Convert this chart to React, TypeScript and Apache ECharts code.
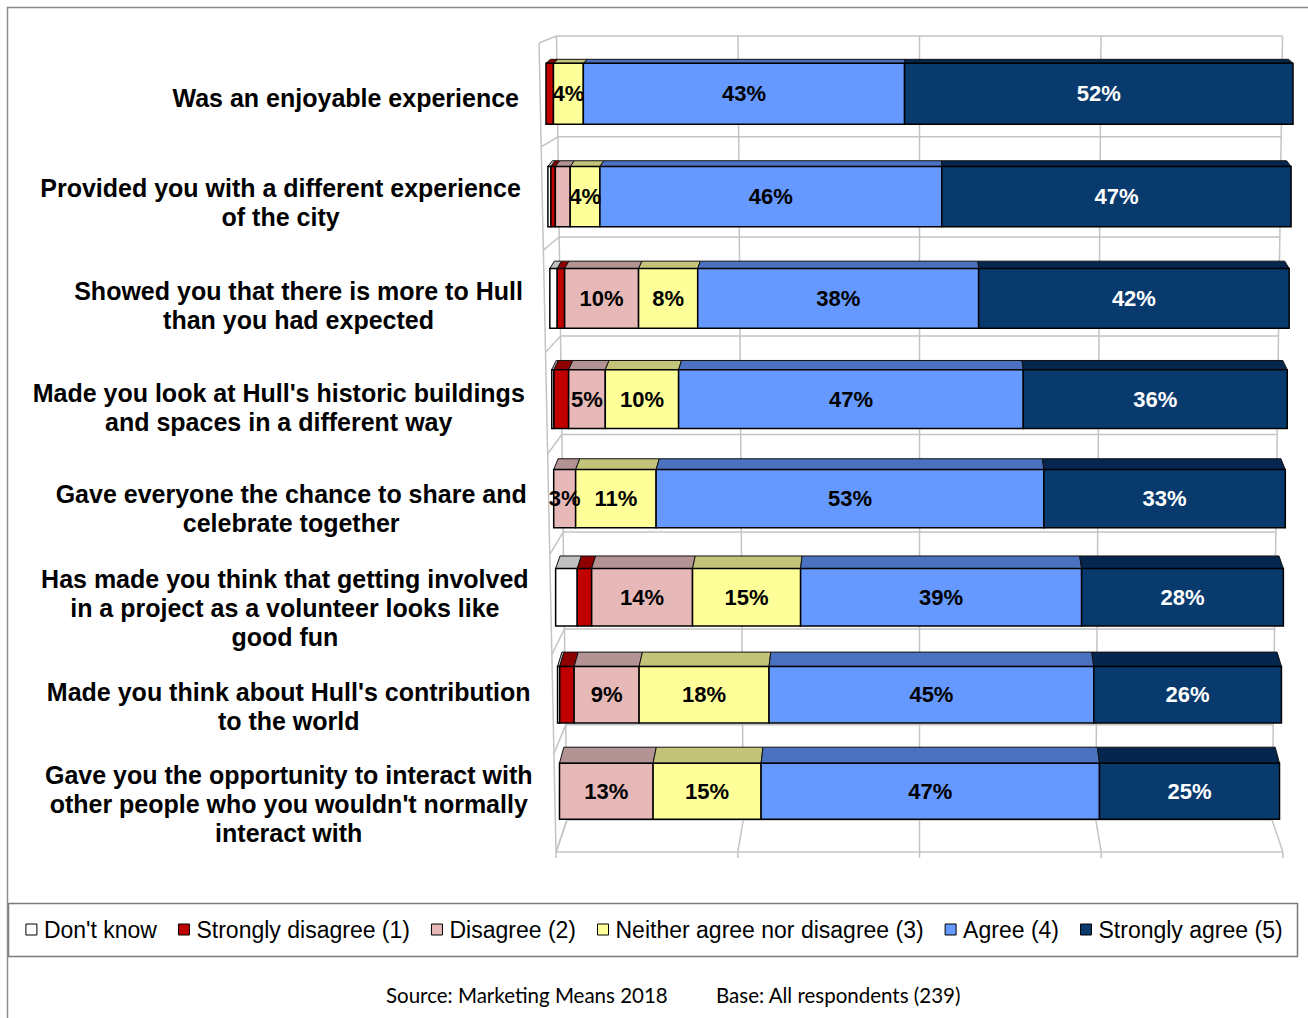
import React, { useEffect, useRef } from 'react';
import * as echarts from 'echarts';

const categories = [
  'Was an enjoyable experience',
  'Provided you with a different experience\nof the city',
  'Showed you that there is more to Hull\nthan you had expected',
  "Made you look at Hull's historic buildings\nand spaces in a different way",
  'Gave everyone the chance to share and\ncelebrate together',
  'Has made you think that getting involved\nin a project as a volunteer looks like\ngood fun',
  "Made you think about Hull's contribution\nto the world",
  "Gave you the opportunity to interact with\nother people who you wouldn't normally\ninteract with",
];

const seriesNames = [
  "Don't know",
  'Strongly disagree (1)',
  'Disagree (2)',
  'Neither agree nor disagree (3)',
  'Agree (4)',
  'Strongly agree (5)',
];

const dontKnow = [0, 0.4, 1, 0.3, 0, 3, 0.3, 0];
const stronglyDisagree = [1, 0.6, 1, 2, 0, 2, 2, 0];
const disagree = [0, 2, 10, 5, 3, 14, 9, 13];
const neither = [4, 4, 8, 10, 11, 15, 18, 15];
const agree = [43, 46, 38, 47, 53, 39, 45, 47];
const stronglyAgree = [52, 47, 42, 36, 33, 28, 26, 25];

const valueTicks = [0, 25, 50, 75, 100];

const frontColors = ['#ffffff', '#c00000', '#e6b9b8', '#ffff99', '#6699ff', '#083a6e'];
const topColors = ['#c0c0c0', '#8e0000', '#b39393', '#c3c37a', '#4a72c0', '#04264f'];
const labelColors = ['#000', '#000', '#000', '#000', '#000', '#ffffff'];

const allSeries = [dontKnow, stronglyDisagree, disagree, neither, agree, stronglyAgree];

const FONT = '"Liberation Sans", Arial, sans-serif';
const GRID_COLOR = '#c4c4c4';
const CAT_FONT_SIZE = 25;

let measureCtx: CanvasRenderingContext2D | null = null;
function maxLineWidth(text: string, font: string): number {
  if (!measureCtx) {
    const cv = document.createElement('canvas');
    measureCtx = cv.getContext('2d');
  }
  if (!measureCtx) return 400;
  measureCtx.font = font;
  return Math.max(...text.split('\n').map((l) => measureCtx!.measureText(l).width));
}

// perspective helpers
const N = categories.length;
function rowGeom(params: any, api: any, c: number) {
  const cs = params.coordSys;
  const cx = cs.x + cs.width / 2;
  const t = c / (N - 1);
  const sF = 1.0596 - 0.0383 * t;
  const yC = api.coord([0, c])[1] + 26 * t * (1 - t);
  const h = 61 - 5 * t;
  const d = 4 + 12 * t;
  return { cs, cx, t, sF, yC, h, d };
}

function makeBarRender(si: number) {
  return (params: any, api: any) => {
    const start = api.value(0);
    const end = api.value(1);
    const c = api.value(2);
    const raw = api.value(3);
    if (!(end - start > 0)) return null;
    const { cx, sF, yC, h, d } = rowGeom(params, api, c);
    const k = 0.988;
    const xa = cx + (api.coord([start, c])[0] - cx) * sF;
    const xb = cx + (api.coord([end, c])[0] - cx) * sF;
    const yT = yC - h / 2;
    const children: any[] = [
      {
        type: 'polygon',
        shape: {
          points: [
            [xa, yT],
            [xb, yT],
            [cx + (xb - cx) * k, yT - d],
            [cx + (xa - cx) * k, yT - d],
          ],
        },
        style: { fill: topColors[si], stroke: '#111', lineWidth: 1 },
      },
      {
        type: 'rect',
        shape: { x: xa, y: yT, width: xb - xa, height: h },
        style: { fill: frontColors[si], stroke: '#000', lineWidth: 1.5 },
      },
    ];
    if (si >= 2 && raw >= 2.5) {
      children.push({
        type: 'text',
        z2: 100,
        x: (xa + xb) / 2,
        y: yC,
        style: {
          text: Math.round(raw) + '%',
          fill: labelColors[si],
          fontSize: 22,
          fontWeight: 'bold',
          fontFamily: FONT,
          align: 'center',
          verticalAlign: 'middle',
        },
      });
    }
    return { type: 'group', children };
  };
}

function buildBarData(si: number) {
  return categories.map((_, c) => {
    const total = allSeries.reduce((s, arr) => s + arr[c], 0);
    let before = 0;
    for (let j = 0; j < si; j++) before += allSeries[j][c];
    const start = (before / total) * 100;
    const end = ((before + allSeries[si][c]) / total) * 100;
    return [start, end, c, allSeries[si][c]];
  });
}

// wall geometry scale factors (relative to grid centre)
const S_BACK_TOP = 1.0298;
const S_BACK_BOT = 1.0;
const S_FLOOR_FRONT = 1.031;
const S_LEFT_FRONT_TOP = 1.0794;
const S_LEFT_FRONT_BOT = 1.0312;

function wallFrame(params: any) {
  const cs = params.coordSys;
  const yBT = cs.y - 8;
  const yBB = cs.y + cs.height - 21;
  const yFT = cs.y - 1;
  const yFF = cs.y + cs.height + 11;
  return { cs, cx: cs.x + cs.width / 2, yBT, yBB, yFT, yFF };
}

function renderVGrid(params: any, api: any) {
  const v = api.value(0);
  const { cx, yBT, yBB, yFT, yFF } = wallFrame(params);
  const x = api.coord([v, 0])[0];
  const px = (s: number) => cx + (x - cx) * s;
  const children: any[] = [
    {
      type: 'polyline',
      shape: { points: [[px(S_BACK_TOP), yBT], [px(S_BACK_BOT), yBB], [px(S_FLOOR_FRONT), yFF]] },
      style: { stroke: GRID_COLOR, lineWidth: 1.5, fill: null },
    },
    {
      type: 'line',
      shape: { x1: px(S_FLOOR_FRONT), y1: yFF, x2: px(S_FLOOR_FRONT), y2: yFF + 6 },
      style: { stroke: GRID_COLOR, lineWidth: 1.5 },
    },
  ];
  if (v === valueTicks[0]) {
    children.push({
      type: 'line',
      shape: { x1: px(S_LEFT_FRONT_TOP), y1: yFT, x2: px(S_LEFT_FRONT_BOT), y2: yFF },
      style: { stroke: GRID_COLOR, lineWidth: 1.5 },
    });
    const x100 = api.coord([valueTicks[valueTicks.length - 1], 0])[0];
    const p100 = (s: number) => cx + (x100 - cx) * s;
    children.push({
      type: 'line',
      shape: { x1: px(S_FLOOR_FRONT), y1: yFF, x2: p100(S_FLOOR_FRONT), y2: yFF },
      style: { stroke: GRID_COLOR, lineWidth: 1.5 },
    });
  }
  return { type: 'group', children };
}

function renderHGrid(params: any, api: any) {
  const k = api.value(2);
  const { cx, yBT, yBB, yFT, yFF } = wallFrame(params);
  const x0 = api.coord([valueTicks[0], 0])[0];
  const x1 = api.coord([valueTicks[valueTicks.length - 1], 0])[0];
  const f = k / N;
  const warp = 26 * f * (1 - f);
  const yb = yBT + f * (yBB - yBT) + warp;
  const sb = S_BACK_TOP + (S_BACK_BOT - S_BACK_TOP) * ((yb - yBT) / (yBB - yBT));
  const yf = yFT + f * (yFF - yFT) + warp;
  const sf = S_LEFT_FRONT_TOP + (S_LEFT_FRONT_BOT - S_LEFT_FRONT_TOP) * ((yf - yFT) / (yFF - yFT));
  return {
    type: 'polyline',
    shape: {
      points: [
        [cx + (x0 - cx) * sf, yf],
        [cx + (x0 - cx) * sb, yb],
        [cx + (x1 - cx) * sb, yb],
      ],
    },
    style: { stroke: GRID_COLOR, lineWidth: 1.5, fill: null },
  };
}

function renderCatLabel(params: any, api: any) {
  const c = api.value(1);
  const { cx, t, sF, yC } = rowGeom(params, api, c);
  const barLeft = cx + (api.coord([0, c])[0] - cx) * sF;
  const right = barLeft - 27;
  const font = `bold ${CAT_FONT_SIZE}px ${FONT}`;
  const w = maxLineWidth(categories[c], font);
  return {
    type: 'text',
    x: right - w / 2,
    y: yC + 4.5 + 8.5 * t,
    style: {
      text: categories[c],
      fill: '#000',
      fontSize: CAT_FONT_SIZE,
      fontWeight: 'bold',
      fontFamily: FONT,
      lineHeight: 29,
      align: 'center',
      verticalAlign: 'middle',
    },
  };
}

export default function App() {
  const ref = useRef<HTMLDivElement>(null);
  useEffect(() => {
    document.body.style.margin = '0';
    if (!ref.current) return;
    const chart = echarts.init(ref.current, undefined, { renderer: 'svg' });
    const hBoundaries = Array.from({ length: N + 1 }, (_, k) => [0, 0, k]);
    const option: any = {
      animation: false,
      backgroundColor: '#ffffff',
      grid: { left: 567, right: 36, top: 44, bottom: 177 },
      xAxis: { type: 'value', min: 0, max: 100, interval: 25, show: false },
      yAxis: { type: 'category', data: categories, inverse: true, show: false },
      legend: {
        data: seriesNames,
        left: 'center',
        top: 913,
        icon: 'rect',
        itemWidth: 11,
        itemHeight: 11,
        itemGap: 21,
        selectedMode: false,
        itemStyle: { borderColor: '#000', borderWidth: 1 },
        textStyle: { fontSize: 23, fontFamily: FONT, color: '#000', padding: [0, 0, 0, 2] },
      },
      graphic: [
        { type: 'line', shape: { x1: 7.5, y1: 7, x2: 7.5, y2: 1018 }, style: { stroke: '#8c8c8c', lineWidth: 1.5 } },
        { type: 'line', shape: { x1: 7, y1: 7.5, x2: 1308, y2: 7.5 }, style: { stroke: '#8c8c8c', lineWidth: 1.5 } },
        {
          type: 'rect',
          z: -1,
          shape: { x: 8.5, y: 903.5, width: 1289, height: 53 },
          style: { fill: '#fff', stroke: '#7a7a7a', lineWidth: 1.5 },
        },
        {
          type: 'text',
          x: 386,
          y: 995,
          style: { text: 'Source: Marketing Means 2018', fontSize: 20.5, fontFamily: 'Lato, "Open Sans", sans-serif', fill: '#000', verticalAlign: 'middle' },
        },
        {
          type: 'text',
          x: 716,
          y: 995,
          style: { text: 'Base: All respondents (239)', fontSize: 20.5, fontFamily: 'Lato, "Open Sans", sans-serif', fill: '#000', verticalAlign: 'middle' },
        },
      ],
      series: [
        {
          type: 'custom',
          name: '_vgrid',
          silent: true,
          z: 1,
          clip: false,
          renderItem: renderVGrid,
          encode: { x: 0, y: 1 },
          data: valueTicks.map((v) => [v, 0]),
        },
        {
          type: 'custom',
          name: '_hgrid',
          silent: true,
          z: 1,
          clip: false,
          renderItem: renderHGrid,
          encode: { x: 0, y: 1 },
          data: hBoundaries,
        },
        ...seriesNames.map((name, si) => ({
          type: 'custom',
          name,
          z: 2,
          clip: false,
          itemStyle: { color: frontColors[si], borderColor: '#000', borderWidth: 1 },
          renderItem: makeBarRender(si),
          encode: { x: [0, 1], y: 2 },
          data: buildBarData(si),
        })),
        {
          type: 'custom',
          name: '_catlabels',
          silent: true,
          z: 3,
          clip: false,
          renderItem: renderCatLabel,
          encode: { x: 0, y: 1 },
          data: categories.map((_, c) => [0, c]),
        },
      ],
    };
    chart.setOption(option);
    return () => chart.dispose();
  }, []);
  return <div ref={ref} style={{ width: 1308, height: 1018 }} />;
}
